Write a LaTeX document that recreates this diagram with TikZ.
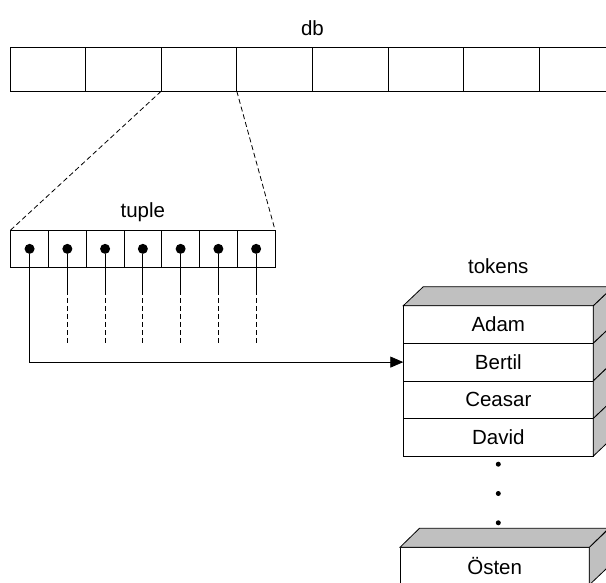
\documentclass[tikz,border=0pt]{standalone}
\usepackage{fontspec}
\setmainfont{Liberation Sans}
\usetikzlibrary{calc,positioning,arrows.meta}
\definecolor{facegray}{RGB}{192,192,192}
\tikzset{
    dbcell/.style={draw,minimum width=75.6,minimum height=43.7,inner sep=0,outer sep=0},
    tcell/.style={draw,minimum width=37.76,minimum height=37.7,inner sep=0,outer sep=0},
    row/.style={draw,fill=white,minimum width=190,minimum height=37.6,inner sep=0,outer sep=0},
    ptr/.style={circle,fill,inner sep=0,minimum size=10},
    etc/.style={circle,fill,inner sep=0,minimum size=5},
    lbl/.style={inner sep=0,text depth=0pt},
    dashes/.style={dash pattern=on 5pt off 3pt},
  }

\begin{document}
\begin{tikzpicture}[x=1pt,y=-1pt,line width=0.8pt,font=\fontsize{20.5}{24}\selectfont]
				  %cadre \useasboundingbox + \clip
				  %empiler les cases : right=0pt of ... (outer sep=0)
				  %descente puis virage : (d1) |- (r2.west)
				  \useasboundingbox (0,0) rectangle (606,583);
				  \clip (0,0) rectangle (606,583);

				  %tableau db
				  \node[dbcell] (c1) at (47.8,69.35) {};
				  \foreach \i [count=\j] in {2,...,8}
				    \node[dbcell,right=0pt of c\j] (c\i) {};
				  \node[lbl,above=12pt of c4.north east] (db) {db};

				  %tuple
				  \node[tcell] (t1) at (29.58,248.85) {};
				  \foreach \i [count=\j] in {2,...,7}
				    \node[tcell,right=0pt of t\j] (t\i) {};
				  \node[lbl,above=12.5pt of t4.north] (tuple) {tuple};
				  \draw[dashes] (c3.south west) -- (t1.north west);
				  \draw[dashes] (c3.south east) -- (t7.north east);

				  %pointeurs
				  \coordinate (solidend) at (0,290);
				  \coordinate (dashend) at (0,343.3);
				  \foreach \i in {1,...,7}
				    \node[ptr] (d\i) at (t\i) {};
				  \foreach \i in {2,...,7}{
				    \draw (d\i) -- (d\i |- solidend);
				    \draw[dashes] (d\i |- solidend) -- (d\i |- dashend);
				  }

				  %tokens
				  \node[row] (r1) at (498.3,324.5) {Adam};
				  \node[row,below=0pt of r1] (r2) {Bertil};
				  \node[row,below=0pt of r2] (r3) {Ceasar};
				  \node[row,below=0pt of r3] (r4) {David};
				  \node[row,minimum width=189.3] (r5) at (494.65,566.1) {Östen};
				  \node[lbl,above=31.5pt of r1.north] (tokens) {tokens};
				  \foreach \r in {r1,r2,r3,r4,r5}
				    \filldraw[fill=facegray] (\r.north east) -- ++(20,-19) -- ++(0,37.6) -- (\r.south east) -- cycle;
				  \filldraw[fill=facegray] (r1.north west) -- ++(20,-19) -- ++(190,0) -- (r1.north east) -- cycle;
				  \filldraw[fill=facegray] (r5.north west) -- ++(19.5,-19) -- ++(189.3,0) -- (r5.north east) -- cycle;

				  \node[etc,below=5.2pt of r4] (e1) {};
				  \node[etc,below=23.5pt of e1] (e2) {};
				  \node[etc,below=23.5pt of e2] (e3) {};

				  \draw[-{Triangle[length=13pt,width=11pt]}] (d1) |- (r2.west);
				  \end{tikzpicture}
\end{document}
